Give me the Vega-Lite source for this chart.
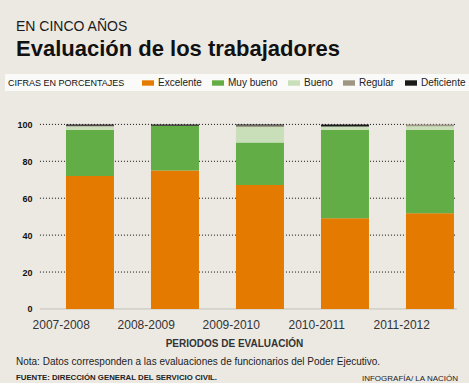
{
  "$schema": "https://vega.github.io/schema/vega-lite/v6.json",
  "background": "#ECE9E3",
  "padding": {"left": 5, "top": 20, "right": 0, "bottom": 0},
  "config": {
    "view": {"stroke": null},
    "font": "Liberation Sans",
    "axis": {"grid": false, "domain": false, "ticks": false},
    "concat": {"spacing": 0}
  },
  "title": {
    "text": "INFOGRAFÍA/ LA NACIÓN",
    "orient": "bottom",
    "anchor": "end",
    "font": "Liberation Sans",
    "fontSize": 8,
    "fontWeight": "normal",
    "color": "#222",
    "offset": -7,
    "dx": -11
  },
  "resolve": {"legend": {"color": "independent"}},
  "vconcat": [
    {
      "title": {
        "text": "Nota: Datos corresponden a las evaluaciones de funcionarios del Poder Ejecutivo.",
        "subtitle": "FUENTE: DIRECCIÓN GENERAL DEL SERVICIO CIVIL.",
        "orient": "bottom",
        "anchor": "start",
        "font": "Liberation Sans",
        "fontSize": 10,
        "fontWeight": "normal",
        "color": "#222",
        "subtitleFont": "Liberation Sans",
        "subtitleFontSize": 7.8,
        "subtitleFontWeight": "bold",
        "subtitleColor": "#222",
        "subtitlePadding": 7,
        "offset": 9,
        "dx": 11
      },
      "resolve": {"legend": {"color": "independent"}},
      "vconcat": [
        {
          "width": 458,
          "height": 225,
          "title": {
            "text": "EN CINCO AÑOS",
            "subtitle": "Evaluación de los trabajadores",
            "anchor": "start",
            "orient": "top",
            "font": "Liberation Sans",
            "fontSize": 14,
            "fontWeight": "normal",
            "color": "#1a1a1a",
            "subtitleFont": "Liberation Sans",
            "subtitleFontSize": 22,
            "subtitleFontWeight": "bold",
            "subtitleColor": "#111",
            "subtitlePadding": 5,
            "offset": 14,
            "dx": 11
          },
          "layer": [
            {
              "data": {"values": [{"v": 20}, {"v": 40}, {"v": 60}, {"v": 80}, {"v": 100}]},
              "mark": {"type": "rule", "strokeDash": [1, 2], "color": "#111", "strokeWidth": 1},
              "encoding": {
                "y": {"field": "v", "type": "quantitative", "title": null},
                "x": {"datum": "2007-2008", "type": "nominal", "bandPosition": -0.542},
                "x2": {"datum": "2011-2012", "bandPosition": 1.0625}
              }
            },
            {
              "data": {"values": [{"v": 0}]},
              "mark": {"type": "rule", "color": "#C4C1BB", "strokeWidth": 1},
              "encoding": {
                "y": {"field": "v", "type": "quantitative", "title": null},
                "x": {"datum": "2007-2008", "type": "nominal", "bandPosition": -0.542},
                "x2": {"datum": "2011-2012", "bandPosition": 1.0625}
              }
            },
            {
              "data": {
                "values": [
                  {"periodo": "2007-2008", "categoria": "Excelente", "valor": 72, "orden": 1},
                  {"periodo": "2007-2008", "categoria": "Muy bueno", "valor": 25, "orden": 2},
                  {"periodo": "2007-2008", "categoria": "Bueno", "valor": 1.8, "orden": 3},
                  {"periodo": "2007-2008", "categoria": "Regular", "valor": 0.5, "orden": 4},
                  {"periodo": "2007-2008", "categoria": "Deficiente", "valor": 0.7, "orden": 5},
                  {"periodo": "2008-2009", "categoria": "Excelente", "valor": 75, "orden": 1},
                  {"periodo": "2008-2009", "categoria": "Muy bueno", "valor": 24.3, "orden": 2},
                  {"periodo": "2008-2009", "categoria": "Bueno", "valor": 0, "orden": 3},
                  {"periodo": "2008-2009", "categoria": "Regular", "valor": 0, "orden": 4},
                  {"periodo": "2008-2009", "categoria": "Deficiente", "valor": 0.7, "orden": 5},
                  {"periodo": "2009-2010", "categoria": "Excelente", "valor": 67.1, "orden": 1},
                  {"periodo": "2009-2010", "categoria": "Muy bueno", "valor": 23.1, "orden": 2},
                  {"periodo": "2009-2010", "categoria": "Bueno", "valor": 8.4, "orden": 3},
                  {"periodo": "2009-2010", "categoria": "Regular", "valor": 0.8, "orden": 4},
                  {"periodo": "2009-2010", "categoria": "Deficiente", "valor": 0.6, "orden": 5},
                  {"periodo": "2010-2011", "categoria": "Excelente", "valor": 49.2, "orden": 1},
                  {"periodo": "2010-2011", "categoria": "Muy bueno", "valor": 47.9, "orden": 2},
                  {"periodo": "2010-2011", "categoria": "Bueno", "valor": 1.7, "orden": 3},
                  {"periodo": "2010-2011", "categoria": "Regular", "valor": 0, "orden": 4},
                  {"periodo": "2010-2011", "categoria": "Deficiente", "valor": 1.2, "orden": 5},
                  {"periodo": "2011-2012", "categoria": "Excelente", "valor": 51.9, "orden": 1},
                  {"periodo": "2011-2012", "categoria": "Muy bueno", "valor": 45.2, "orden": 2},
                  {"periodo": "2011-2012", "categoria": "Bueno", "valor": 1.9, "orden": 3},
                  {"periodo": "2011-2012", "categoria": "Regular", "valor": 1.0, "orden": 4},
                  {"periodo": "2011-2012", "categoria": "Deficiente", "valor": 0, "orden": 5}
                ]
              },
              "mark": {"type": "bar"},
              "encoding": {
                "x": {
                  "field": "periodo",
                  "type": "nominal",
                  "scale": {"paddingInner": 0.4353, "paddingOuter": 0.4118, "align": 0.871},
                  "axis": {
                    "labelAngle": 0,
                    "labelFont": "Liberation Sans",
                    "labelFontSize": 12,
                    "labelColor": "#333",
                    "labelPadding": 6.5,
                    "title": "PERIODOS DE EVALUACIÓN",
                    "titleFont": "Liberation Sans",
                    "titleFontSize": 10,
                    "titleFontWeight": "bold",
                    "titleColor": "#333",
                    "titlePadding": 7.5
                  }
                },
                "y": {
                  "field": "valor",
                  "type": "quantitative",
                  "stack": "zero",
                  "scale": {"domain": [-4.9, 117], "nice": false, "zero": false},
                  "axis": {
                    "values": [0, 20, 40, 60, 80, 100],
                    "offset": -35,
                    "labelPadding": 8,
                    "labelFont": "Liberation Sans",
                    "labelFontWeight": "bold",
                    "labelFontSize": 9,
                    "labelColor": "#111",
                    "title": null
                  }
                },
                "color": {
                  "field": "categoria",
                  "type": "nominal",
                  "scale": {
                    "domain": ["Excelente", "Muy bueno", "Bueno", "Regular", "Deficiente"],
                    "range": ["#E57A00", "#62AD45", "#C8DFB9", "#9C9683", "#1A1A1A"]
                  },
                  "legend": {
                    "title": "CIFRAS EN PORCENTAJES",
                    "orient": "top",
                    "direction": "horizontal",
                    "titleOrient": "left",
                    "titleFont": "Liberation Sans",
                    "titleFontSize": 9,
                    "titleFontWeight": "normal",
                    "titleColor": "#111",
                    "titlePadding": 17,
                    "labelFont": "Liberation Sans",
                    "labelFontSize": 10,
                    "labelColor": "#222",
                    "symbolType": "M-1,-0.45H1V0.45H-1Z",
                    "symbolSize": 144,
                    "symbolStrokeWidth": 0,
                    "labelOffset": 4,
                    "columnPadding": 10,
                    "fillColor": "#FAFAF9",
                    "padding": 3,
                    "offset": 2.5
                  }
                },
                "order": {"field": "orden", "type": "quantitative"}
              }
            }
          ]
        }
      ]
    }
  ]
}
